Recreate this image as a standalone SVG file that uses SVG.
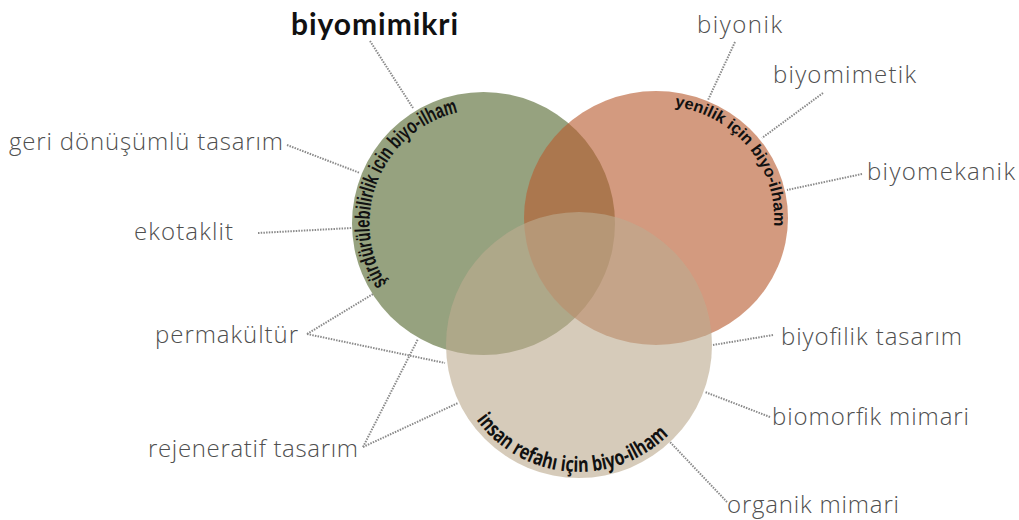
<svg xmlns="http://www.w3.org/2000/svg" width="1019" height="520" viewBox="0 0 1019 520">
<style>
.lbl{font-family:"Open Sans","Noto Sans","Liberation Sans",sans-serif;font-size:24px;font-weight:300;fill:#4f4f4f;}
.ttl{font-family:"Lato","Open Sans","Liberation Sans",sans-serif;font-size:30px;font-weight:bold;fill:#111111;}
.arc{font-family:"Liberation Sans Narrow","Liberation Sans",sans-serif;font-weight:bold;fill:#111111;}
.con line{stroke:#8a8a8a;stroke-width:2;stroke-dasharray:1.5 1.2;fill:none;}
</style>
<defs>
<path id="pG" d="M386.8,283.9 A114,114 0 0 1 457.9,112.4"/>
<path id="pO" d="M674.5,106.4 A118,113 0 0 1 773.8,225.9"/>
<path id="pB" d="M476.3,419.7 A127,127 0 0 0 668.8,434.8"/>
</defs>
<rect width="1019" height="520" fill="#ffffff"/>
<g id="connectors" class="con">
<line x1="370" y1="41" x2="413" y2="108"/>
<line x1="287" y1="145" x2="360" y2="173"/>
<line x1="258" y1="233" x2="352" y2="228"/>
<line x1="307" y1="334" x2="373" y2="294"/>
<line x1="307" y1="334" x2="445" y2="363"/>
<line x1="363" y1="447" x2="418" y2="339"/>
<line x1="363" y1="447" x2="458" y2="403"/>
<line x1="735" y1="42" x2="708" y2="100"/>
<line x1="823" y1="93" x2="762" y2="138"/>
<line x1="862" y1="174" x2="787" y2="190"/>
<line x1="773" y1="335" x2="713" y2="345"/>
<line x1="770" y1="417" x2="705" y2="392"/>
<line x1="727" y1="502" x2="670" y2="442"/>
</g>
<g id="circle-green">
<circle cx="483.5" cy="223.5" r="131.5" fill="#96a27f"/>
</g>
<g id="circle-orange">
<ellipse cx="656" cy="218" rx="132" ry="127" fill="#b85c31" fill-opacity="0.62"/>
</g>
<g id="circle-beige">
<circle cx="579" cy="345" r="133" fill="#bdab90" fill-opacity="0.62"/>
</g>
<g id="arc-texts">
<text class="arc" font-size="21"><textPath href="#pG" textLength="217" lengthAdjust="spacingAndGlyphs">şürdürülebilirlik icin biyo-ilham</textPath></text>
<text class="arc" font-size="16"><textPath href="#pO" textLength="171" lengthAdjust="spacingAndGlyphs">yenilik için biyo-ilham</textPath></text>
<text class="arc" font-size="21" style="font-family:'Open Sans','Liberation Sans',sans-serif"><textPath href="#pB" textLength="219" lengthAdjust="spacingAndGlyphs">insan refahı için biyo-ilham</textPath></text>
</g>
<g id="n-biyomimikri"><text class="ttl" x="291" y="35" textLength="167">biyomimikri</text></g>
<g id="n-biyonik"><text class="lbl" x="697" y="33" textLength="85">biyonik</text></g>
<g id="n-biyomimetik"><text class="lbl" x="773" y="83" textLength="143">biyomimetik</text></g>
<g id="n-biyomekanik"><text class="lbl" x="867" y="180" textLength="148">biyomekanik</text></g>
<g id="n-geri"><text class="lbl" x="9" y="150" textLength="274">geri dönüşümlü tasarım</text></g>
<g id="n-ekotaklit"><text class="lbl" x="134" y="240" textLength="99">ekotaklit</text></g>
<g id="n-permakultur"><text class="lbl" x="155" y="343" textLength="143">permakültür</text></g>
<g id="n-rejeneratif"><text class="lbl" x="148" y="457" textLength="210">rejeneratif tasarım</text></g>
<g id="n-biyofilik"><text class="lbl" x="781" y="345" textLength="181">biyofilik tasarım</text></g>
<g id="n-biomorfik"><text class="lbl" x="772" y="425" textLength="197">biomorfik mimari</text></g>
<g id="n-organik"><text class="lbl" x="727" y="513" textLength="172">organik mimari</text></g>
</svg>
